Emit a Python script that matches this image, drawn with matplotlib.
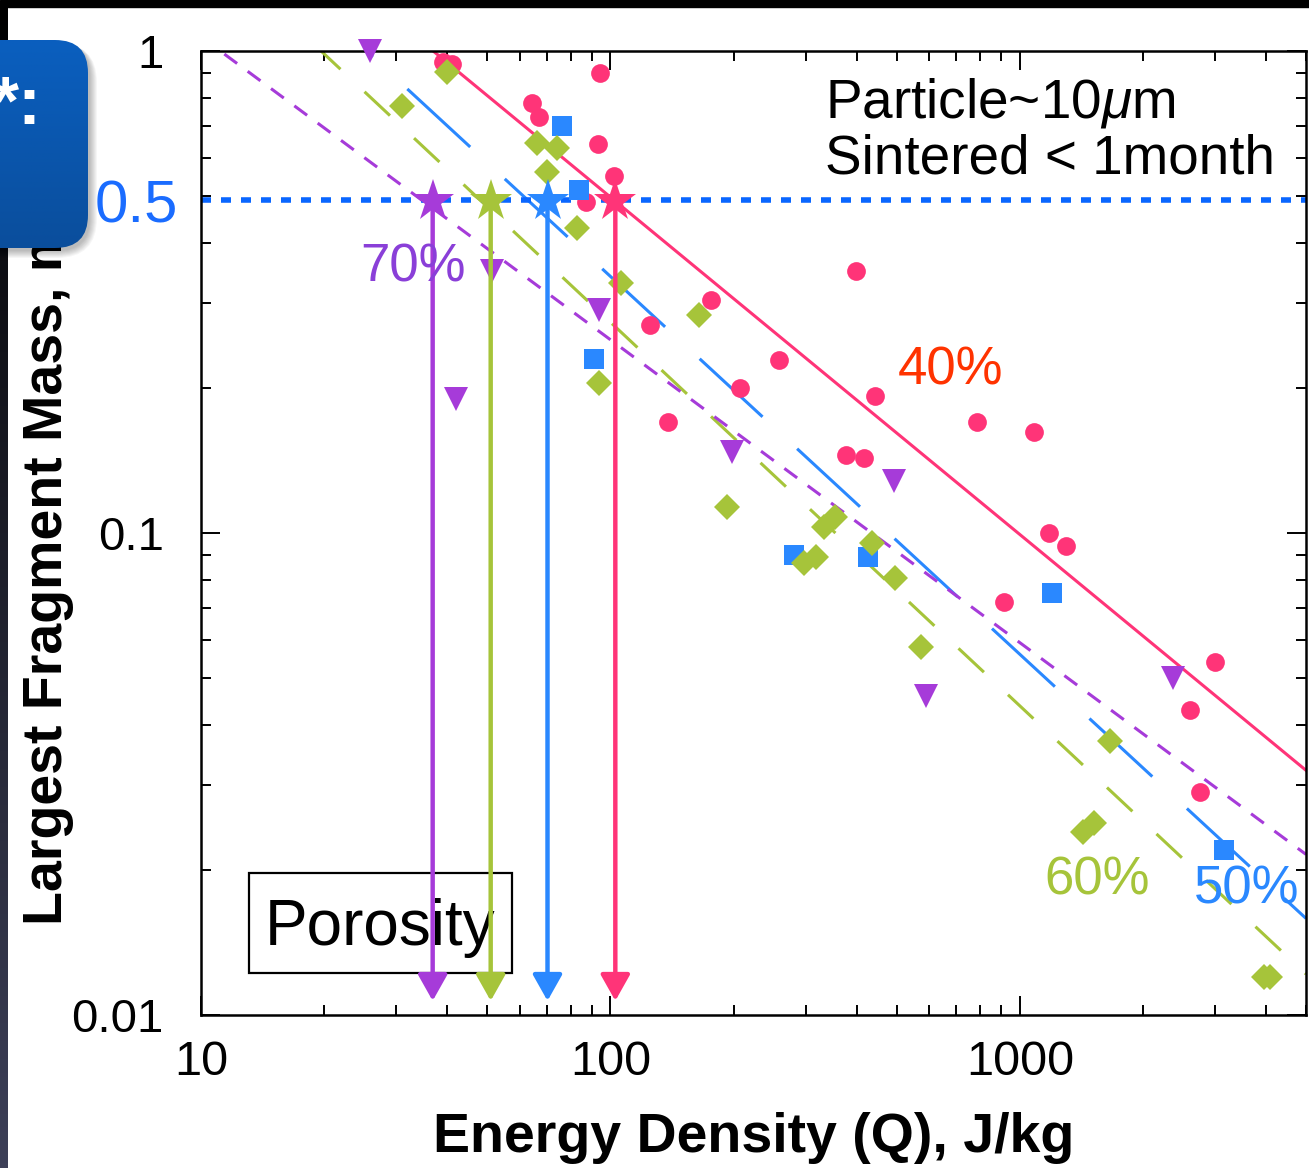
#!/usr/bin/env python

""" Largest fragment mass vs energy density for sintered aggregates
    of different porosity (log-log), with the Q* read-off at m = 0.5
"""

import numpy as np
import matplotlib
matplotlib.use("Agg")
import matplotlib.pyplot as plt
from matplotlib.patches import FancyBboxPatch, FancyArrowPatch, Rectangle
from matplotlib.colors import LinearSegmentedColormap
from matplotlib.transforms import blended_transform_factory

plt.rcParams['font.family'] = ['Liberation Sans', 'DejaVu Sans']
plt.rcParams['mathtext.fontset'] = 'custom'
plt.rcParams['mathtext.rm'] = 'Liberation Sans'
plt.rcParams['mathtext.it'] = 'Liberation Sans:italic'

# ---- data ----
porosity = ["40%", "50%", "60%", "70%"]

q_40 = [39, 41, 94.5, 64.5, 67, 93.5, 102, 87, 125, 176, 258, 207, 398, 443,
        138, 785, 1080, 376, 417, 1177, 1300, 914, 3000, 2600, 2750]
m_40 = [0.95, 0.94, 0.90, 0.78, 0.73, 0.64, 0.55, 0.485, 0.27, 0.305, 0.228,
        0.20, 0.35, 0.192, 0.17, 0.17, 0.162, 0.145, 0.143, 0.100, 0.094,
        0.072, 0.054, 0.043, 0.029]

q_50 = [76, 84, 91, 281, 426, 1200, 3145]
m_50 = [0.70, 0.515, 0.23, 0.090, 0.089, 0.075, 0.022]

q_60 = [40, 31, 66, 74, 70, 83, 106, 94, 165, 193, 354, 333, 318, 297, 436,
        496, 573, 1660, 1425, 1515, 3940, 4090]
m_60 = [0.905, 0.77, 0.645, 0.63, 0.56, 0.43, 0.33, 0.205, 0.284, 0.113,
        0.108, 0.103, 0.089, 0.0865, 0.0955, 0.0805, 0.058, 0.037, 0.024,
        0.025, 0.012, 0.012]

q_70 = [25.8, 51.5, 42, 94, 198, 493, 590, 2360]
m_70 = [1.0, 0.35, 0.19, 0.29, 0.147, 0.128, 0.046, 0.050]

# power-law fits m = A * Q^b
fit_A = [12.5, 12.6, 10.7, 4.55]
fit_b = [-0.70, -0.784, -0.796, -0.6285]

# Q* where the largest fragment is half the mass
m_half = 0.5
q_star = [102.8, 70.2, 51, 36.8]

x_ticks = [10, 100, 1000]
x_ticklabels = ["10", "100", "1000"]
y_ticks = [0.01, 0.1, 1]
y_ticklabels = ["0.01", "0.1", "1"]

# ---- styles ----
colors = ["#ff3478", "#2a88ff", "#a6c43a", "#a63bd9"]
label_colors = ["#ff3300", "#2a88ff", "#a6c43a", "#8a3fd8"]
markers = ["o", "s", "D", "v"]
msizes = [13.5, 14, 13.5, 17]
fit_styles = ["-", (0, (28, 15.4)), (0, (11.4, 10.8)), (0, (5.2, 4.3))]

W, H = 1309, 1168
fig = plt.figure(figsize=(W / 100, H / 100), dpi=100)
fig.patch.set_facecolor("white")

ax = fig.add_axes([201 / W, 1 - 1015 / H, 1105 / W, 964 / H])
ax.set_xscale("log")
ax.set_yscale("log")
ax.set_xlim(10, 5000)
ax.set_ylim(0.01, 1)

# fit lines
q_line = np.logspace(1, np.log10(5000), 200)
for A, b, c, ls in zip(fit_A, fit_b, colors, fit_styles):
    ax.plot(q_line, A * q_line ** b, color=c, lw=2.2, linestyle=ls, zorder=2)

# half-mass threshold (drawn a touch low, as in the original slide)
ax.axhline(m_half * 0.98, color="#0a66ff", lw=4, linestyle=(0, (1.8, 1.8)),
           zorder=2.5)

# measurements
series = [(q_40, m_40), (q_50, m_50), (q_60, m_60), (q_70, m_70)]
for (q, m), c, mk, ms in zip(series, colors, markers, msizes):
    ax.plot(q, m, linestyle="none", marker=mk, ms=ms, color=c, mew=0,
            zorder=3, clip_on=False)

# arrows down from Q*
for qs, c in zip(q_star, colors):
    arr = FancyArrowPatch((qs, m_half * 0.975), (qs, 0.0107),
                          arrowstyle="-|>,head_length=16,head_width=9",
                          mutation_scale=1, lw=3.2, color=c,
                          shrinkA=0, shrinkB=0, zorder=4)
    ax.add_patch(arr)
    ax.plot([qs], [m_half * 0.975], marker="*", ms=32, color=c, mew=0, zorder=5)

# porosity labels
label_pos = [(679, 0.217), (3581, 0.0182), (1542, 0.019), (32.9, 0.355)]
for txt, (x, y), c in zip(porosity, label_pos, label_colors):
    ax.text(x, y, txt, color=c, fontsize=38, ha="center", va="center", zorder=6)

ax.text(0.5647, 0.9305, r"Particle~10$\mu$m", transform=ax.transAxes,
        fontsize=39.5, va="baseline", ha="left")
ax.text(0.5647, 0.8734, "Sintered < 1month", transform=ax.transAxes,
        fontsize=39.5, va="baseline", ha="left")

ax.add_patch(Rectangle((0.0434, 0.0436), 0.2376, 0.1037, transform=ax.transAxes,
                       fill=False, ec="black", lw=1.6, zorder=3.5))
ax.text(0.162, 0.0726, "Porosity", transform=ax.transAxes, fontsize=46,
        ha="center", va="baseline", zorder=3.5)

# blue 0.5 label at the threshold
trans = blended_transform_factory(ax.transAxes, ax.transData)
ax.text(-0.021, 0.44, "0.5", transform=trans, color="#1a6cff", fontsize=43,
        ha="right", va="baseline")

# ticks
ax.set_xticks(x_ticks, labels=x_ticklabels)
ax.set_yticks(y_ticks, labels=y_ticklabels)
ax.tick_params(which="both", direction="in", top=True, right=True, width=1.4)
ax.tick_params(which="major", length=14)
ax.tick_params(which="minor", length=7)
ax.tick_params(axis="x", which="major", labelsize=35, pad=18)
ax.tick_params(axis="y", which="major", labelsize=34, pad=27)
for sp in ax.spines.values():
    sp.set_linewidth(1.8)

# axis titles
fig.text(753.5 / W, 1 - 1152 / H, "Energy Density (Q), J/kg", fontsize=40,
         fontweight="bold", ha="center", va="baseline")
fig.text(48 / W, 1 - 925 / H, "Largest Fragment Mass, m", fontsize=40,
         fontweight="bold", rotation=90, ha="center", va="bottom", zorder=1)

# slide decorations: dark frame edges
fig.patches.append(Rectangle((0, 1 - 7 / H), 1, 7 / H, transform=fig.transFigure,
                             color="black", zorder=0))
strip = fig.add_axes([0, 0, 8 / W, 1 - 7 / H], zorder=8)
strip.imshow(np.linspace(0, 1, 256).reshape(-1, 1), aspect="auto",
             cmap=LinearSegmentedColormap.from_list("strip", ["#000000", "#3d4058"]),
             extent=[0, 1, 1, 0])
strip.axis("off")

# rounded blue callout at the top left (pixel coordinates)
box = fig.add_axes([-40 / W, 1 - 275 / H, 155 / W, 245 / H], zorder=10)
box.axis("off")
box.patch.set_visible(False)
for k in range(8):
    box.add_patch(FancyBboxPatch((-40 + 2, 40 + 3), 128 + k, 208 + k,
                                 boxstyle="round,pad=0,rounding_size=%d" % (33 + k),
                                 fc="black", ec="none", alpha=0.035))
frame = FancyBboxPatch((-40, 40), 128, 208, boxstyle="round,pad=0,rounding_size=33",
                       fc="none", ec="none")
box.add_patch(frame)
grad = box.imshow(np.linspace(0, 1, 256).reshape(-1, 1), aspect="auto",
                  cmap=LinearSegmentedColormap.from_list("callout", ["#0a5fbf", "#0a4e9c"]),
                  extent=[-40, 88, 248, 40], zorder=2)
grad.set_clip_path(frame)
box.set_xlim(-40, 115)
box.set_ylim(275, 30)
box.text(42, 124, "*:", color="white", fontsize=50, fontweight="bold",
         ha="right", va="baseline", zorder=3)

fig.savefig("out.png", dpi=100)
